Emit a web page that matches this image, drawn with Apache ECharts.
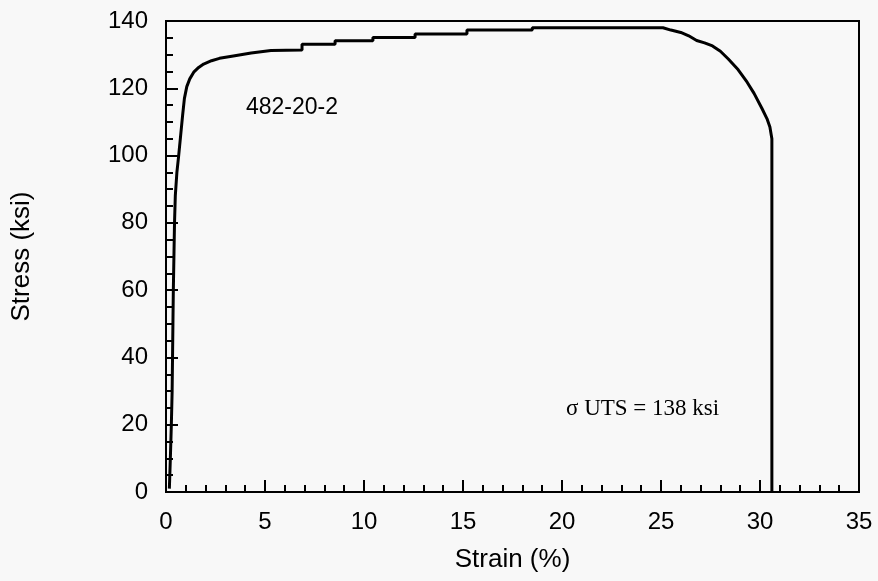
<!DOCTYPE html>
<html>
<head>
<meta charset="utf-8">
<script src="https://cdn.jsdelivr.net/npm/echarts@6/dist/echarts.min.js"></script>
<style>
  html, body { margin: 0; padding: 0; background: #f8f8f8; }
  #chart { width: 878px; height: 581px; }
</style>
</head>
<body>
<div id="chart"></div>
<script>
// Tensile test, specimen 482-20-2: engineering strain (%) vs stress (ksi)
const strain = [
  0.17, 0.22, 0.27, 0.31, 0.33, 0.35, 0.37, 0.40, 0.43, 0.47,
  0.55, 0.64, 0.74, 0.84, 0.93, 1.05, 1.2, 1.4, 1.65, 1.9,
  2.3, 2.7, 3.4, 4.3, 5.3, 6.87, 6.87, 8.54, 8.54, 10.45,
  10.45, 12.58, 12.58, 15.2, 15.2, 18.5, 18.5, 25.1, 25.5, 26.0,
  26.4, 26.8, 27.2, 27.6, 28.0, 28.4, 28.9, 29.35, 29.7, 30.1,
  30.35, 30.5, 30.6, 30.6
];
const stress = [
  1, 10, 20, 30, 40, 50, 60, 70, 80, 88,
  95, 100, 106, 112, 117, 120.5, 122.8, 124.8, 126.2, 127.2,
  128.2, 128.9, 129.6, 130.5, 131.2, 131.4, 133.1, 133.1, 134.1, 134.1,
  135.1, 135.1, 136.1, 136.1, 137.3, 137.3, 138, 138, 137.3, 136.6,
  135.6, 134.2, 133.5, 132.6, 131, 128.7, 125.5, 121.8, 118.5, 114,
  111, 108.5, 105, 0
];
const specimenLabel = '482-20-2';
const utsLabel = '\u03c3 UTS = 138 ksi';

const curve = strain.map((x, i) => [x, stress[i]]);

const chart = echarts.init(document.getElementById('chart'), null, { renderer: 'canvas' });

const axisFont = { color: '#000', fontFamily: '"Liberation Sans", Arial, sans-serif' };

chart.setOption({
  backgroundColor: '#f8f8f8',
  animation: false,
  grid: {
    left: 166, right: 19, top: 21, bottom: 89,
    show: true, borderColor: '#000', borderWidth: 2, backgroundColor: 'transparent'
  },
  xAxis: {
    type: 'value', min: 0, max: 35, interval: 5,
    name: 'Strain (%)', nameLocation: 'middle', nameGap: 55,
    nameTextStyle: Object.assign({ fontSize: 26 }, axisFont),
    axisLine: { show: true, onZero: false, lineStyle: { color: '#000', width: 2 } },
    axisTick: { show: true, inside: true, length: 12, lineStyle: { color: '#000', width: 2 } },
    minorTick: { show: true, splitNumber: 5, length: 7, lineStyle: { color: '#000', width: 2 } },
    axisLabel: Object.assign({ fontSize: 24, margin: 18 }, axisFont),
    splitLine: { show: false }
  },
  yAxis: {
    type: 'value', min: 0, max: 140, interval: 20,
    name: 'Stress (ksi)', nameLocation: 'middle', nameGap: 131,
    nameTextStyle: Object.assign({ fontSize: 26 }, axisFont),
    axisLine: { show: true, lineStyle: { color: '#000', width: 2 } },
    axisTick: { show: true, inside: true, length: 12, lineStyle: { color: '#000', width: 2 } },
    minorTick: { show: true, splitNumber: 4, length: 7, lineStyle: { color: '#000', width: 2 } },
    axisLabel: Object.assign({ fontSize: 24, margin: 18 }, axisFont),
    splitLine: { show: false }
  },
  graphic: [
    {
      type: 'text', left: 246, top: 96,
      style: { text: specimenLabel, fill: '#000', font: '23px "Liberation Sans", Arial, sans-serif' }
    },
    {
      type: 'text', left: 566, top: 397,
      style: { text: utsLabel, fill: '#000', font: '23px "Liberation Serif", "Times New Roman", serif' }
    }
  ],
  series: [{
    type: 'line',
    data: curve,
    showSymbol: false,
    smooth: false,
    lineStyle: { color: '#000', width: 3 },
    clip: true
  }]
});
</script>
</body>
</html>
